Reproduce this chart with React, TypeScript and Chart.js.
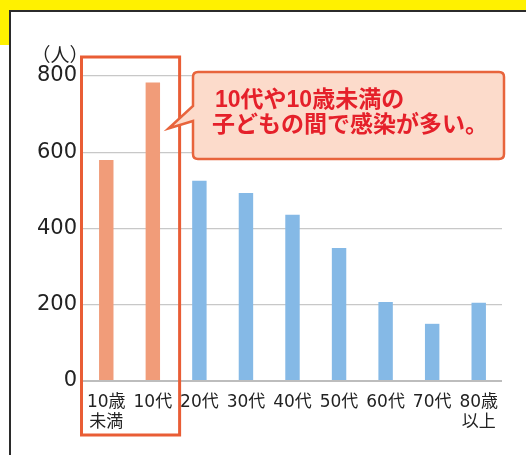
import React, { useEffect, useRef } from "react";
import { Chart, registerables } from "chart.js";

Chart.register(...registerables);

const categories: (string | string[])[] = [
  ["10歳", "未満"],
  "10代",
  "20代",
  "30代",
  "40代",
  "50代",
  "60代",
  "70代",
  ["80歳", "以上"],
];
const cases: number[] = [580, 783, 525, 493, 436, 349, 207, 150, 205];
const highlight: boolean[] = [true, true, false, false, false, false, false, false, false];
const yTicks: number[] = [0, 200, 400, 600, 800];
const unitLabel = "（人）";
const calloutLines: string[] = ["10代や10歳未満の", "子どもの間で感染が多い。"];

const ORANGE = "#F19C79";
const BLUE = "#85B9E6";
const RED_BOX = "#E95D35";

const W = 526;
const H = 455;

const decoPlugin = {
  id: "deco",
  beforeDraw(chart: any) {
    const ctx = chart.ctx;
    ctx.save();
    ctx.fillStyle = "#ffffff";
    ctx.fillRect(0, 0, W, H);
    ctx.fillStyle = "#FFF100";
    ctx.fillRect(0, 0, W, 10);
    ctx.fillRect(0, 0, 9, 45);
    ctx.fillStyle = "#2b2b2b";
    ctx.fillRect(9, 10, W - 9, 2);
    ctx.fillRect(9, 10, 2, H - 10);
    ctx.restore();
  },
  afterDraw(chart: any) {
    const ctx = chart.ctx;
    const xs = chart.scales.x;
    const ys = chart.scales.y;
    const catW = xs.getPixelForValue(1) - xs.getPixelForValue(0);
    ctx.save();
    // unit label
    ctx.fillStyle = "#222";
    ctx.font = '19px "Noto Sans CJK JP"';
    ctx.textAlign = "center";
    ctx.textBaseline = "middle";
    ctx.fillText(unitLabel, 60, 55);

    // highlight box around first two categories
    const hl = highlight.map((h, i) => (h ? i : -1)).filter((i) => i >= 0);
    const bx0 = xs.getPixelForValue(hl[0]) - catW / 2 - 1.5;
    const bx1 = xs.getPixelForValue(hl[hl.length - 1]) + catW / 2 + 3.5;
    const by0 = ys.getPixelForValue(800) - 19;
    const by1 = 435;
    ctx.strokeStyle = RED_BOX;
    ctx.lineWidth = 3;
    ctx.strokeRect(bx0, by0, bx1 - bx0, by1 - by0);

    // callout
    const cx0 = 193, cy0 = 72, cx1 = 504, cy1 = 159, r = 5;
    ctx.beginPath();
    ctx.moveTo(cx0 + r, cy0);
    ctx.lineTo(cx1 - r, cy0);
    ctx.quadraticCurveTo(cx1, cy0, cx1, cy0 + r);
    ctx.lineTo(cx1, cy1 - r);
    ctx.quadraticCurveTo(cx1, cy1, cx1 - r, cy1);
    ctx.lineTo(cx0 + r, cy1);
    ctx.quadraticCurveTo(cx0, cy1, cx0, cy1 - r);
    ctx.lineTo(cx0, 121);
    ctx.lineTo(168.5, 128.5);
    ctx.lineTo(cx0, 106);
    ctx.lineTo(cx0, cy0 + r);
    ctx.quadraticCurveTo(cx0, cy0, cx0 + r, cy0);
    ctx.closePath();
    ctx.fillStyle = "#FCDBCB";
    ctx.fill();
    ctx.strokeStyle = "#E8643C";
    ctx.lineWidth = 2.5;
    ctx.lineJoin = "miter";
    ctx.stroke();

    ctx.fillStyle = "#E5202A";
    ctx.font = 'bold 23px "Liberation Sans", "Noto Sans CJK JP"';
    ctx.textAlign = "left";
    ctx.textBaseline = "middle";
    ctx.fillText(calloutLines[0], 215, 101);
    ctx.fillText(calloutLines[1], 212, 126);
    ctx.restore();
  },
};

export default function App() {
  const ref = useRef<HTMLCanvasElement | null>(null);
  useEffect(() => {
    if (!ref.current) return;
    const chart = new Chart(ref.current, {
      type: "bar",
      data: {
        labels: categories,
        datasets: [
          {
            data: cases,
            backgroundColor: highlight.map((h) => (h ? ORANGE : BLUE)),
            barPercentage: 0.31,
            categoryPercentage: 1,
            borderWidth: 0,
          },
        ],
      },
      options: {
        animation: false,
        responsive: false,
        devicePixelRatio: 1,
        layout: { padding: { left: 0, top: 76, right: 24, bottom: 0 } },
        plugins: { legend: { display: false }, tooltip: { enabled: false } },
        scales: {
          x: {
            grid: { display: false },
            border: { display: false },
            ticks: {
              padding: 3,
              color: "#222",
              maxRotation: 0,
              autoSkip: false,
              font: { family: '"DejaVu Sans", "Noto Sans CJK JP", sans-serif', size: 17, lineHeight: 1.2 },
            },
            afterFit: (s: any) => {
              s.height = 74;
            },
          },
          y: {
            min: yTicks[0],
            max: yTicks[yTicks.length - 1],
            afterBuildTicks: (s: any) => {
              s.ticks = yTicks.map((v) => ({ value: v }));
            },
            border: { display: false },
            grid: {
              drawTicks: false,
              color: (c: any) => (c.tick && c.tick.value === 0 ? "#bdbdbd" : "#c8c8c8"),
              lineWidth: (c: any) => (c.tick && c.tick.value === 0 ? 2 : 1.2),
            },
            ticks: {
              padding: 6,
              color: "#222",
              font: { family: '"DejaVu Sans", sans-serif', size: 21 },
            },
            afterFit: (s: any) => {
              s.width = 83;
            },
          },
        },
      },
      plugins: [decoPlugin],
    });
    return () => chart.destroy();
  }, []);
  return (
    <div style={{ position: "fixed", left: 0, top: 0, width: W, height: H }}>
      <canvas ref={ref} width={W} height={H} style={{ width: W, height: H, display: "block" }} />
    </div>
  );
}
